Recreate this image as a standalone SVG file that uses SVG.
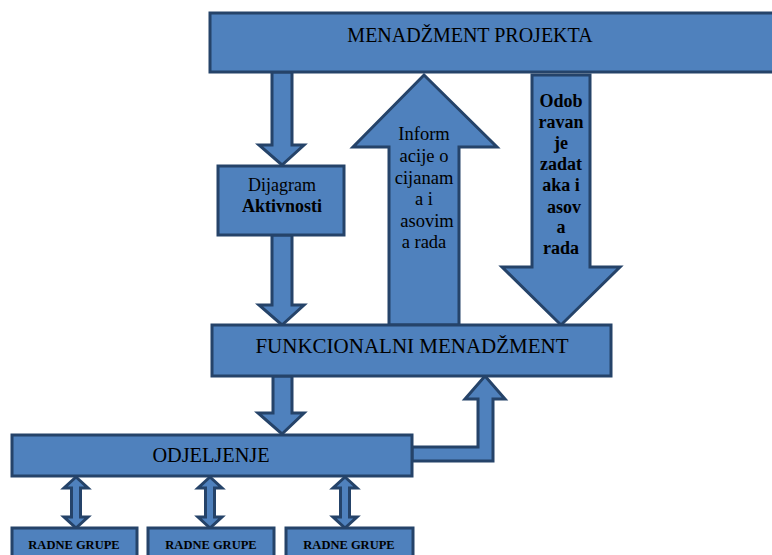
<svg xmlns="http://www.w3.org/2000/svg" width="772" height="555" viewBox="0 0 772 555">
<style>
.s{fill:#4f81bd;stroke:#254369;stroke-width:3;stroke-linejoin:miter}
.t{font-family:"Liberation Serif","Times New Roman",serif;fill:#000;text-anchor:middle}
.b{font-weight:bold}
</style>
<rect width="772" height="555" fill="#fff"/>
<g id="connectors">
<polygon class="s" points="272,72 292,72 292,145 304,145 282,165 259,145 272,145"/>
<polygon class="s" points="272,235 292,235 292,305 304,305 282,325 259,305 272,305"/>
<polygon class="s" points="273,376 292,376 292,413 304,413 282,434 258,413 273,413"/>
<polygon class="s" points="412,447 478,447 478,399 465,399 485,376 505,399 493,399 493,461 412,461"/>
<polygon class="s" points="76,477 88,488 80.5,488 80.5,517 88,517 76,528 64,517 71.5,517 71.5,488 64,488"/>
<polygon class="s" points="210,477 222,488 214.5,488 214.5,517 222,517 210,528 198,517 205.5,517 205.5,488 198,488"/>
<polygon class="s" points="345,477 357,488 349.5,488 349.5,517 357,517 345,528 333,517 340.5,517 340.5,488 333,488"/>
</g>
<g id="menadzment-projekta">
<rect class="s" x="210" y="13" width="570" height="59"/>
<text class="t" x="470" y="42" font-size="20">MENADŽMENT PROJEKTA</text>
</g>
<g id="informacije">
<polygon class="s" points="424,75 497,147 459,147 459,325 389,325 389,147 353,147"/>
<text class="t" x="424" font-size="18.5"><tspan x="424" y="140">Inform</tspan><tspan x="424" y="162">acije o</tspan><tspan x="424" y="184">cijanam</tspan><tspan x="424" y="205">a i</tspan><tspan x="427" y="227">asovim</tspan><tspan x="424" y="248">a rada</tspan></text>
</g>
<g id="odobravanje">
<polygon class="s" points="532,75 590,75 590,267 620,267 561,325 502,267 532,267"/>
<text class="t b" font-size="18"><tspan x="561" y="107">Odob</tspan><tspan x="561" y="128">ravan</tspan><tspan x="561" y="149">je</tspan><tspan x="561" y="170">zadat</tspan><tspan x="561" y="191">aka i</tspan><tspan x="564" y="213">asov</tspan><tspan x="561" y="233">a</tspan><tspan x="561" y="254">rada</tspan></text>
</g>
<g id="dijagram">
<rect class="s" x="218" y="166" width="126" height="69"/>
<text class="t" x="282" y="191" font-size="18">Dijagram</text>
<text class="t b" x="282" y="212" font-size="18">Aktivnosti</text>
</g>
<g id="funkcionalni">
<rect class="s" x="212" y="325" width="399" height="51"/>
<text class="t" x="412" y="353" font-size="21">FUNKCIONALNI MENADŽMENT</text>
</g>
<g id="odjeljenje">
<rect class="s" x="12" y="435" width="400" height="41"/>
<text class="t" x="211" y="462" font-size="20.3">ODJELJENJE</text>
</g>
<g id="radne-grupe-1">
<rect class="s" x="12" y="528" width="125" height="40"/>
<text class="t b" x="74" y="549" font-size="12.5">RADNE GRUPE</text>
</g>
<g id="radne-grupe-2">
<rect class="s" x="148" y="528" width="126" height="40"/>
<text class="t b" x="211" y="549" font-size="12.5">RADNE GRUPE</text>
</g>
<g id="radne-grupe-3">
<rect class="s" x="286" y="528" width="127" height="40"/>
<text class="t b" x="349" y="549" font-size="12.5">RADNE GRUPE</text>
</g>
</svg>
